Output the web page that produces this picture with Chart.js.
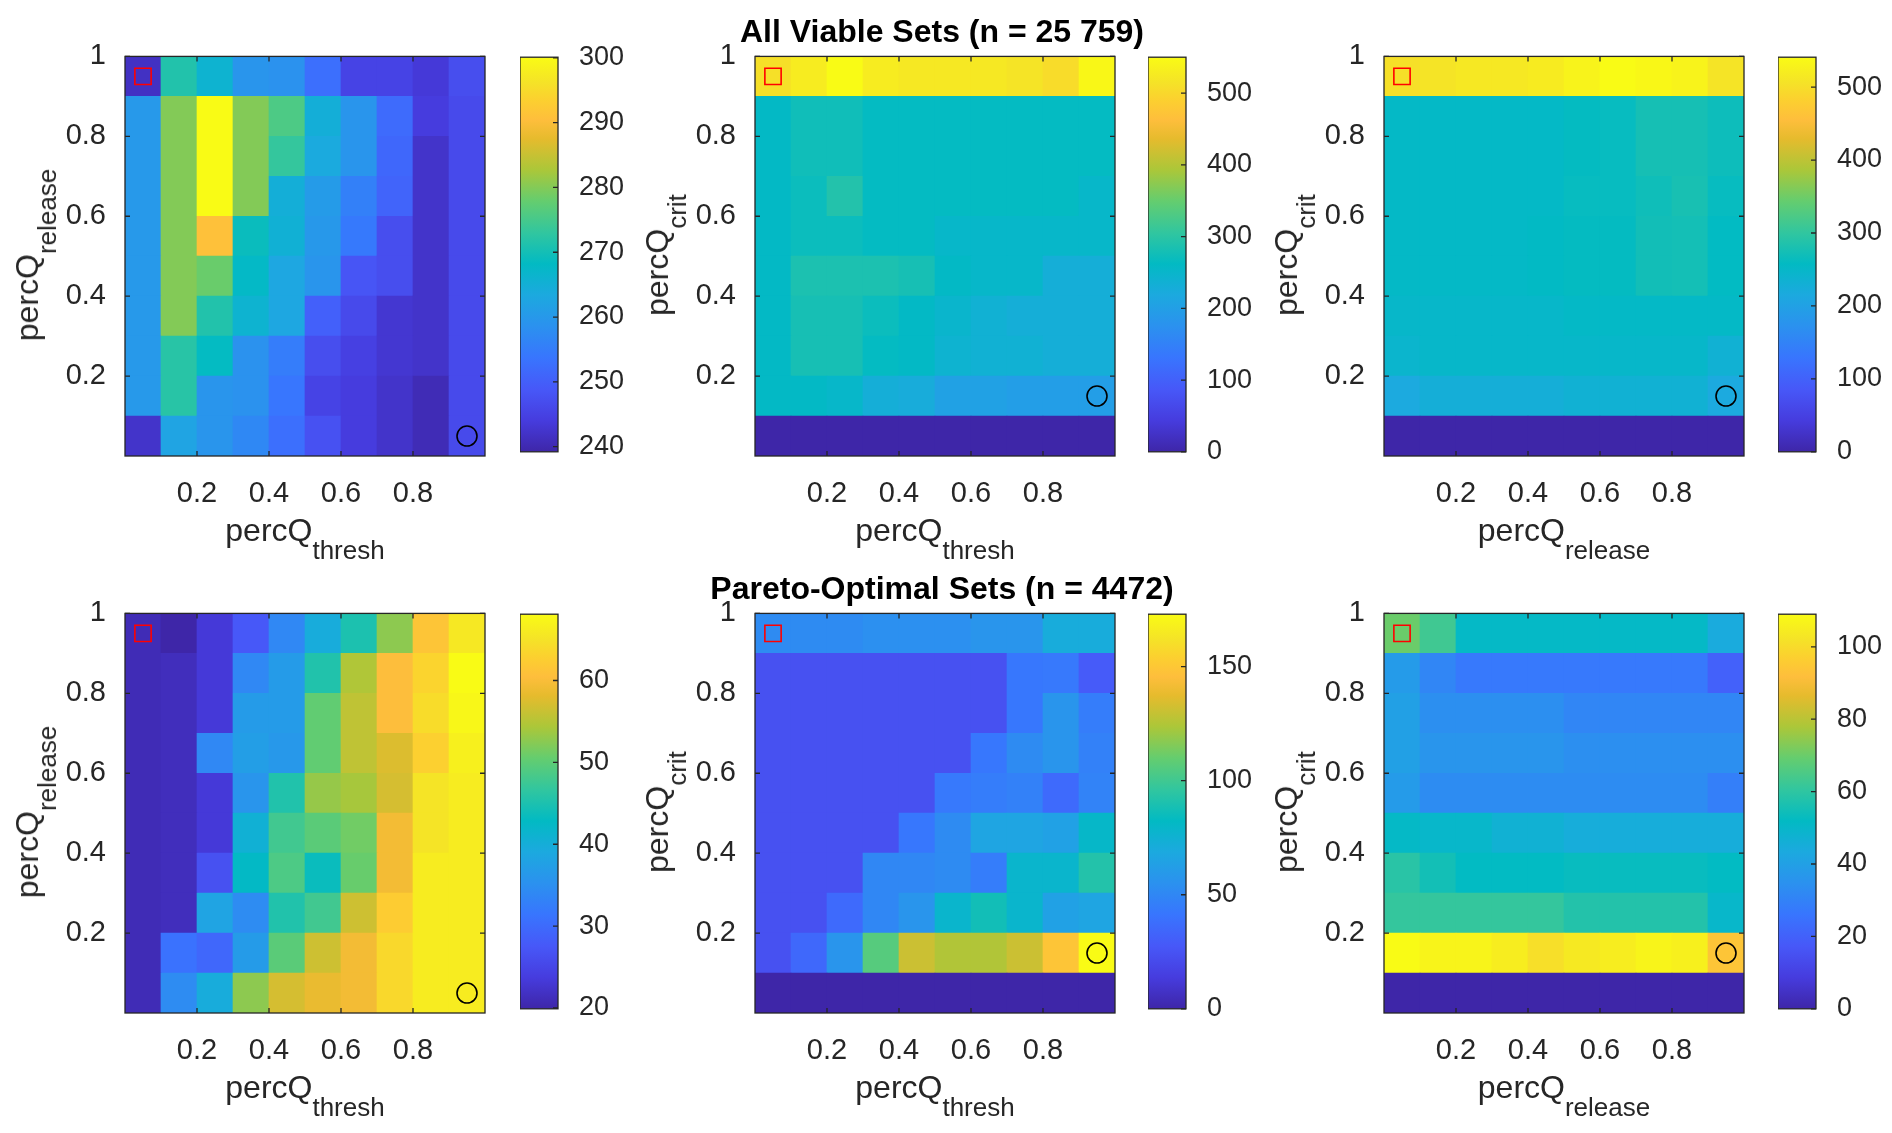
<!DOCTYPE html>
<html>
<head>
<meta charset="utf-8">
<title>Viable and Pareto-optimal parameter sets</title>
<script src="https://cdn.jsdelivr.net/npm/chart.js@4.4.0/dist/chart.umd.min.js"></script>
<style>
  html, body { margin: 0; padding: 0; background: #fff; }
  #fig { position: relative; width: 1892px; height: 1133px; overflow: hidden;
         font-family: "Liberation Sans", Arial, Helvetica, sans-serif; color: #262626; }
  .box { position: absolute; }
  .lab { position: absolute; font-size: 32px; line-height: 1; white-space: nowrap; }
  .lab span { position: relative; top: 18px; font-size: 26px; }
  .ttl { position: absolute; font-size: 32px; font-weight: bold; line-height: 1; color: #000;
         white-space: nowrap; transform: translateX(-50%); }
</style>
</head>
<body>
<div id="fig"></div>
<script>
// bin edges of both parameters, and the tick values shown on the axes
const binEdges = [0, 0.1, 0.2, 0.3, 0.4, 0.5, 0.6, 0.7, 0.8, 0.9, 1.0];
const xTicks = [0.2, 0.4, 0.6, 0.8];
const yTicks = [0.2, 0.4, 0.6, 0.8, 1];

// counts per bin, rows from top (0.9-1.0) down to bottom (0-0.1)
const viableThreshRelease = [
  [241.6, 271.5, 266.0, 259.3, 258.7, 252.6, 245.3, 245.3, 243.5, 247.1],
  [260.0, 280.0, 300.1, 280.0, 275.7, 264.8, 259.3, 252.0, 244.1, 246.5],
  [260.0, 280.0, 300.1, 280.0, 273.3, 263.6, 259.3, 251.4, 242.2, 246.5],
  [260.0, 280.0, 300.1, 280.0, 264.8, 260.5, 255.6, 250.8, 242.2, 246.5],
  [260.0, 280.0, 291.0, 269.0, 265.4, 259.9, 254.4, 247.1, 242.2, 246.5],
  [260.0, 280.0, 278.2, 267.8, 262.9, 259.3, 248.3, 247.1, 242.2, 246.5],
  [260.0, 280.0, 271.5, 266.0, 262.9, 250.2, 246.5, 242.9, 242.2, 246.5],
  [260.0, 272.1, 268.4, 258.7, 255.0, 247.1, 244.7, 242.9, 242.2, 246.5],
  [260.0, 272.1, 259.3, 258.7, 253.8, 245.3, 244.1, 242.2, 240.4, 246.5],
  [242.2, 262.3, 259.3, 256.9, 252.6, 247.7, 244.1, 242.2, 240.4, 246.5]
];
const viableThreshCrit = [
  [512, 528, 550, 528, 523, 523, 523, 517, 506, 545],
  [259, 275, 275, 264, 264, 264, 264, 264, 264, 264],
  [259, 275, 275, 264, 264, 264, 264, 264, 264, 264],
  [259, 270, 292, 264, 264, 264, 264, 264, 264, 253],
  [259, 270, 270, 264, 264, 253, 253, 253, 253, 253],
  [259, 286, 286, 286, 281, 259, 253, 253, 231, 231],
  [259, 281, 281, 270, 259, 248, 237, 231, 231, 231],
  [259, 281, 281, 264, 259, 242, 237, 237, 231, 231],
  [259, 259, 253, 231, 226, 204, 204, 198, 198, 198],
  [0, 0, 0, 0, 0, 0, 0, 0, 0, 0]
];
const viableReleaseCrit = [
  [503, 509, 514, 514, 519, 530, 541, 536, 530, 509],
  [254, 254, 254, 254, 254, 260, 262, 276, 276, 268],
  [254, 254, 254, 254, 254, 260, 262, 276, 276, 268],
  [254, 254, 254, 254, 254, 262, 262, 270, 278, 262],
  [254, 254, 254, 254, 257, 260, 260, 272, 274, 258],
  [254, 254, 254, 254, 257, 260, 260, 272, 274, 258],
  [249, 249, 249, 249, 249, 254, 254, 254, 254, 254],
  [243, 249, 249, 249, 249, 249, 249, 249, 249, 233],
  [216, 227, 227, 227, 227, 233, 233, 233, 233, 216],
  [0, 0, 0, 0, 0, 0, 0, 0, 0, 0]
];
const paretoThreshRelease = [
  [20.9, 19.9, 23.3, 27.6, 33.9, 39.7, 45.0, 52.7, 61.4, 65.7],
  [20.9, 21.3, 23.3, 33.9, 36.8, 45.4, 54.6, 60.4, 63.3, 68.1],
  [20.9, 21.3, 23.3, 36.8, 36.8, 50.3, 55.6, 60.4, 64.2, 67.6],
  [20.9, 21.3, 33.9, 37.3, 36.3, 50.3, 55.6, 57.5, 62.8, 66.7],
  [20.9, 21.3, 23.3, 35.8, 45.4, 53.2, 54.1, 57.0, 65.2, 66.2],
  [20.9, 21.3, 23.3, 40.6, 47.9, 49.8, 51.2, 59.4, 65.2, 66.2],
  [20.9, 21.3, 26.6, 42.6, 48.8, 43.5, 50.7, 59.4, 66.2, 66.2],
  [20.9, 21.3, 38.2, 34.4, 45.4, 47.9, 56.5, 62.3, 66.2, 66.2],
  [20.9, 31.0, 29.5, 36.8, 49.8, 56.5, 59.4, 63.8, 66.2, 66.2],
  [20.9, 34.4, 39.7, 52.7, 57.0, 58.5, 59.4, 63.8, 66.2, 66.2]
];
const paretoThreshCrit = [
  [52, 52, 52, 54, 54, 54, 57, 57, 71, 71],
  [24, 24, 24, 24, 24, 24, 24, 42, 43, 29],
  [24, 24, 24, 24, 24, 24, 24, 42, 57, 45],
  [24, 24, 24, 24, 24, 24, 42, 52, 57, 47],
  [24, 24, 24, 24, 24, 43, 45, 47, 36, 48],
  [24, 24, 24, 24, 42, 52, 66, 66, 64, 80],
  [24, 24, 24, 50, 50, 52, 45, 78, 78, 92],
  [24, 24, 36, 50, 57, 78, 87, 78, 64, 66],
  [24, 35, 57, 106, 131, 125, 125, 131, 149, 173],
  [0, 0, 0, 0, 0, 0, 0, 0, 0, 0]
];
const paretoReleaseCrit = [
  [70, 63, 51, 51, 51, 51, 51, 51, 51, 44],
  [38, 31, 27, 27, 27, 27, 27, 27, 27, 20],
  [40, 34, 34, 34, 34, 31, 31, 31, 31, 31],
  [40, 36, 36, 36, 36, 34, 34, 34, 34, 34],
  [38, 33, 33, 33, 33, 33, 33, 33, 33, 29],
  [51, 50, 50, 47, 47, 45, 45, 45, 45, 45],
  [59, 55, 52, 52, 52, 53, 53, 53, 53, 52],
  [61, 61, 61, 61, 61, 58, 58, 58, 58, 50],
  [109, 107, 107, 105, 101, 104, 105, 107, 106, 94],
  [0, 0, 0, 0, 0, 0, 0, 0, 0, 0]
];

// colour limits and colorbar ticks of each panel
const viableThreshReleaseLim = [239.2, 300.1];
const viableThreshCritLim = [0, 550];
const viableReleaseCritLim = [0, 541];
const paretoThreshReleaseLim = [19.9, 68.1];
const paretoThreshCritLim = [0, 173];
const paretoReleaseCritLim = [0, 109];
const viableThreshReleaseTicks = [240, 250, 260, 270, 280, 290, 300];
const viableCritTicks = [0, 100, 200, 300, 400, 500];
const paretoThreshReleaseTicks = [20, 30, 40, 50, 60];
const paretoThreshCritTicks = [0, 50, 100, 150];
const paretoReleaseCritTicks = [0, 20, 40, 60, 80, 100];

// marked parameter sets
const squareSet = [0.05, 0.95];
const circleLow = [0.95, 0.05];
const circleCrit = [0.95, 0.15];

const titles = ['All Viable Sets (n = 25 759)', 'Pareto-Optimal Sets (n = 4472)'];

// parula colormap (sampled from the 64-entry table)
const parulaStops = [
  [0.0000, 0.2422, 0.1504, 0.6603],
  [0.0794, 0.2751, 0.2342, 0.8710],
  [0.1587, 0.2795, 0.3447, 0.9717],
  [0.2381, 0.2206, 0.4603, 0.9973],
  [0.3175, 0.1687, 0.5703, 0.9359],
  [0.3968, 0.1113, 0.6635, 0.8763],
  [0.4762, 0.0067, 0.7312, 0.7660],
  [0.5556, 0.1938, 0.7758, 0.6251],
  [0.6349, 0.3909, 0.8029, 0.4354],
  [0.7143, 0.6720, 0.7793, 0.2227],
  [0.7937, 0.9035, 0.7330, 0.1774],
  [0.8413, 0.9956, 0.7434, 0.2371],
  [0.8889, 0.9892, 0.8136, 0.1885],
  [0.9365, 0.9610, 0.8890, 0.1537],
  [1.0000, 0.9769, 0.9839, 0.0805]
];

function parula(t) {
  t = Math.min(1, Math.max(0, t));
  let i = 1;
  while (i < parulaStops.length - 1 && parulaStops[i][0] < t) i++;
  const a = parulaStops[i - 1], b = parulaStops[i];
  const f = (t - a[0]) / (b[0] - a[0]);
  const ch = k => Math.round(255 * (a[k] + f * (b[k] - a[k])));
  return 'rgb(' + ch(1) + ',' + ch(2) + ',' + ch(3) + ')';
}

const fontFamily = '"Liberation Sans", Arial, Helvetica, sans-serif';
const inkColor = '#262626';
const plotW = 360, plotH = 403;
const rowTops = [53, 610];
const colLefts = [125, 755, 1384];
const cbLefts = [520, 1148, 1778];
const cbW = 38;

const panels = [
  { grid: viableThreshRelease, clim: viableThreshReleaseLim, cticks: viableThreshReleaseTicks,
    xlab: 'thresh', ylab: 'release', circle: circleLow, row: 0, col: 0 },
  { grid: viableThreshCrit, clim: viableThreshCritLim, cticks: viableCritTicks,
    xlab: 'thresh', ylab: 'crit', circle: circleCrit, row: 0, col: 1 },
  { grid: viableReleaseCrit, clim: viableReleaseCritLim, cticks: viableCritTicks,
    xlab: 'release', ylab: 'crit', circle: circleCrit, row: 0, col: 2 },
  { grid: paretoThreshRelease, clim: paretoThreshReleaseLim, cticks: paretoThreshReleaseTicks,
    xlab: 'thresh', ylab: 'release', circle: circleLow, row: 1, col: 0 },
  { grid: paretoThreshCrit, clim: paretoThreshCritLim, cticks: paretoThreshCritTicks,
    xlab: 'thresh', ylab: 'crit', circle: circleCrit, row: 1, col: 1 },
  { grid: paretoReleaseCrit, clim: paretoReleaseCritLim, cticks: paretoReleaseCritTicks,
    xlab: 'release', ylab: 'crit', circle: circleCrit, row: 1, col: 2 }
];

const fig = document.getElementById('fig');

function addBox(left, top, width, height) {
  const div = document.createElement('div');
  div.className = 'box';
  div.style.left = left + 'px';
  div.style.top = top + 'px';
  div.style.width = width + 'px';
  div.style.height = height + 'px';
  const canvas = document.createElement('canvas');
  div.appendChild(canvas);
  fig.appendChild(div);
  return canvas;
}

function addText(cls, html, left, top, transform) {
  const el = document.createElement('div');
  el.className = cls;
  el.innerHTML = html;
  el.style.left = left + 'px';
  el.style.top = top + 'px';
  if (transform) el.style.transform = transform;
  fig.appendChild(el);
}

// MATLAB style box with inward ticks on all four sides
const axesBox = {
  id: 'axesBox',
  afterDatasetsDraw(chart) {
    const { ctx, chartArea: a, scales } = chart;
    const len = 5;
    ctx.save();
    ctx.strokeStyle = inkColor;
    ctx.lineWidth = 1.3;
    ctx.strokeRect(a.left, a.top, a.width, a.height);
    ctx.beginPath();
    xTicks.forEach(v => {
      const px = scales.x.getPixelForValue(v);
      ctx.moveTo(px, a.bottom); ctx.lineTo(px, a.bottom - len);
      ctx.moveTo(px, a.top); ctx.lineTo(px, a.top + len);
    });
    yTicks.forEach(v => {
      const py = scales.y.getPixelForValue(v);
      ctx.moveTo(a.left, py); ctx.lineTo(a.left + len, py);
      ctx.moveTo(a.right, py); ctx.lineTo(a.right - len, py);
    });
    ctx.stroke();
    ctx.restore();
  }
};

const cbBox = {
  id: 'cbBox',
  afterDatasetsDraw(chart) {
    const { ctx, chartArea: a, scales } = chart;
    ctx.save();
    ctx.strokeStyle = inkColor;
    ctx.lineWidth = 1.3;
    ctx.strokeRect(a.left, a.top, a.width, a.height);
    ctx.beginPath();
    scales.y.ticks.forEach(t => {
      const py = scales.y.getPixelForValue(t.value);
      ctx.moveTo(a.right, py); ctx.lineTo(a.right - 5, py);
    });
    ctx.stroke();
    ctx.restore();
  }
};

function makeHeatmap(p) {
  const padL = 90, padT = 25, padR = 15, padB = 60;
  const left = colLefts[p.col], top = rowTops[p.row];
  const canvas = addBox(left - padL, top - padT, padL + plotW + padR, padT + plotH + padB);

  const cells = [];
  const colors = [];
  const n = binEdges.length;
  p.grid.forEach((row, r) => {
    row.forEach((v, c) => {
      cells.push({ x: (binEdges[c] + binEdges[c + 1]) / 2, y: [binEdges[n - 2 - r], binEdges[n - 1 - r]] });
      colors.push(parula((v - p.clim[0]) / (p.clim[1] - p.clim[0])));
    });
  });

  new Chart(canvas, {
    type: 'bar',
    data: {
      datasets: [
        {
          type: 'scatter', order: 0,
          data: [{ x: squareSet[0], y: squareSet[1] }],
          pointStyle: 'rect', pointRadius: 11.5, pointBorderWidth: 1.6,
          pointBorderColor: '#ff0000', pointBackgroundColor: 'rgba(0,0,0,0)'
        },
        {
          type: 'scatter', order: 0,
          data: [{ x: p.circle[0], y: p.circle[1] }],
          pointStyle: 'circle', pointRadius: 10, pointBorderWidth: 1.6,
          pointBorderColor: '#000000', pointBackgroundColor: 'rgba(0,0,0,0)'
        },
        {
          order: 1,
          data: cells,
          backgroundColor: colors,
          borderWidth: 0,
          barPercentage: 1,
          categoryPercentage: 1
        }
      ]
    },
    options: {
      responsive: true,
      maintainAspectRatio: false,
      animation: false,
      events: [],
      layout: { padding: { left: 0, top: padT, right: padR, bottom: 0 } },
      plugins: { legend: { display: false }, tooltip: { enabled: false } },
      scales: {
        x: {
          type: 'linear', min: 0, max: 1, offset: false,
          grid: { display: false }, border: { display: false },
          afterBuildTicks: s => { s.ticks = xTicks.map(v => ({ value: v })); },
          afterFit: s => { s.height = padB; },
          ticks: { padding: 13, color: inkColor, maxRotation: 0, autoSkip: false,
                   font: { family: fontFamily, size: 29 }, callback: v => String(v) }
        },
        y: {
          type: 'linear', min: 0, max: 1,
          grid: { display: false }, border: { display: false },
          afterBuildTicks: s => { s.ticks = yTicks.map(v => ({ value: v })); },
          afterFit: s => { s.width = padL; },
          ticks: { padding: 11, color: inkColor, autoSkip: false,
                   font: { family: fontFamily, size: 29 }, callback: v => String(v) }
        }
      }
    },
    plugins: [axesBox]
  });

  // axis labels with subscripts (baseline offsets from the plot edges)
  addText('lab', 'percQ<span>' + p.xlab + '</span>', left + plotW / 2, top + plotH + 85 - 27, 'translateX(-50%)');
  addText('lab', 'percQ<span>' + p.ylab + '</span>', left - 87 - 11, top + plotH / 2,
          'translate(-50%, -50%) rotate(-90deg)');
}

function makeColorbar(p) {
  const padT = 25, padB = 25, labW = 80;
  const left = cbLefts[p.col], top = rowTops[p.row];
  const canvas = addBox(left, top - padT, cbW + labW, padT + plotH + padB);

  new Chart(canvas, {
    type: 'bar',
    data: {
      datasets: [{
        data: [{ x: 0, y: p.clim }],
        borderWidth: 0,
        barPercentage: 1,
        categoryPercentage: 1,
        backgroundColor: ctx => {
          const area = ctx.chart.chartArea;
          if (!area) return parula(0.5);
          const g = ctx.chart.ctx.createLinearGradient(0, area.bottom, 0, area.top);
          parulaStops.forEach(s => g.addColorStop(s[0], parula(s[0])));
          return g;
        }
      }]
    },
    options: {
      responsive: true,
      maintainAspectRatio: false,
      animation: false,
      events: [],
      layout: { padding: { left: 0, top: padT, right: 0, bottom: padB } },
      plugins: { legend: { display: false }, tooltip: { enabled: false } },
      scales: {
        x: {
          type: 'linear', min: -0.5, max: 0.5, offset: false, display: false,
          afterBuildTicks: s => { s.ticks = [{ value: -0.5 }, { value: 0.5 }]; }
        },
        y: {
          type: 'linear', position: 'right', min: p.clim[0], max: p.clim[1],
          grid: { display: false }, border: { display: false },
          afterBuildTicks: s => { s.ticks = p.cticks.map(v => ({ value: v })); },
          afterFit: s => { s.width = labW; },
          ticks: { padding: 13, color: inkColor, autoSkip: false,
                   font: { family: fontFamily, size: 27 }, callback: v => String(v) }
        }
      }
    },
    plugins: [cbBox]
  });
}

panels.forEach(p => { makeHeatmap(p); makeColorbar(p); });

// figure titles above the middle column
const titleBaselines = [42, 599];
titles.forEach((t, i) => addText('ttl', t, 942, titleBaselines[i] - 27));
</script>
</body>
</html>
